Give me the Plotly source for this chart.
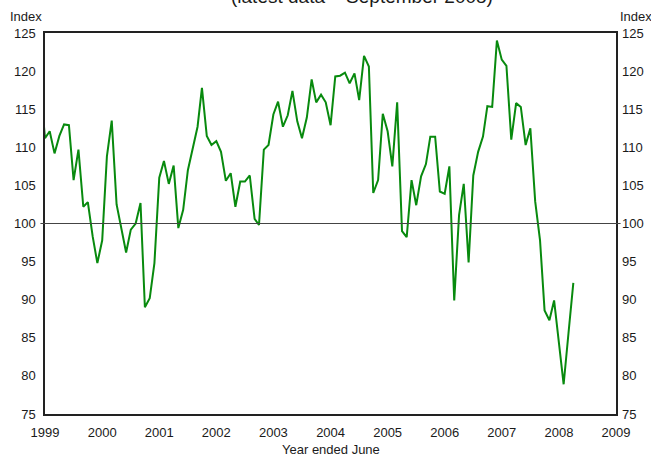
import pandas as pd
import plotly.graph_objects as go

# Monthly index, May 1999 (clipped at left edge) to September 2008
months = pd.date_range("1999-05-01", "2008-09-01", freq="MS")
index_values = [
    118.5,
    111.2, 112.1, 109.2, 111.5, 113.0, 112.9, 105.7, 109.7, 102.2, 102.8, 98.3, 94.8,
    97.8, 108.8, 113.5, 102.5, 99.6, 96.2, 99.2, 100.0, 102.7, 89.0, 90.2, 94.8,
    106.0, 108.2, 105.2, 107.6, 99.4, 101.8, 107.0, 109.9, 112.7, 117.8, 111.5, 110.3,
    110.8, 109.4, 105.6, 106.6, 102.2, 105.5, 105.5, 106.3, 100.6, 99.8, 109.7, 110.3,
    114.3, 116.0, 112.7, 114.2, 117.4, 113.4, 111.2, 113.9, 118.9, 115.9, 116.9, 115.9,
    112.9, 119.3, 119.4, 119.8, 118.4, 119.7, 116.2, 122.0, 120.6, 104.0, 105.7, 114.4,
    112.1, 107.5, 115.9, 99.0, 98.2, 105.7, 102.4, 106.2, 107.8, 111.4, 111.4, 104.2,
    103.9, 107.5, 89.9, 101.1, 105.2, 94.9, 106.3, 109.4, 111.4, 115.4, 115.3, 124.0,
    121.5, 120.7, 111.0, 115.8, 115.3, 110.3, 112.5, 102.9, 97.8, 88.6, 87.3, 89.9,
    84.4, 78.9, 85.6, 92.2,
]
tick_years = list(range(1999, 2010))
tick_dates = [f"{y}-06-01" for y in tick_years]
tick_labels = [str(y) for y in tick_years]
y_ticks = list(range(75, 126, 5))

FONT = "Arial, Liberation Sans, sans-serif"
TXT = "#1a1a1a"

fig = go.Figure()
fig.add_trace(go.Scatter(x=months, y=index_values, mode="lines",
                         line=dict(color="#088a0e", width=2), hoverinfo="skip",
                         showlegend=False))
fig.add_trace(go.Scatter(x=months, y=index_values, mode="lines", yaxis="y2",
                         line=dict(color="rgba(0,0,0,0)", width=0), hoverinfo="skip",
                         showlegend=False))

axis_common = dict(range=[75, 125], tickvals=y_ticks, ticks="", showgrid=False,
                   zeroline=False, tickfont=dict(family=FONT, size=13, color=TXT),
                   ticklabelstandoff=5, automargin=False)

fig.update_layout(
    width=651, height=454,
    margin=dict(l=45, r=35, t=33, b=40),
    paper_bgcolor="white", plot_bgcolor="white",
    font=dict(family=FONT, color=TXT),
    xaxis=dict(range=[tick_dates[0], tick_dates[-1]], tickvals=tick_dates,
               ticktext=tick_labels, ticks="", showgrid=False, zeroline=False,
               showline=True, linecolor="#222", linewidth=1.5, mirror=True,
               automargin=False, ticklabelstandoff=6,
               tickfont=dict(family=FONT, size=13, color=TXT)),
    yaxis=dict(showline=True, linecolor="#222", linewidth=1.5, mirror=True, **axis_common),
    yaxis2=dict(overlaying="y", side="right", showline=False, **axis_common),
    shapes=[dict(type="line", xref="paper", yref="y", x0=-0.008, x1=1.008, y0=100, y1=100,
                 line=dict(color="#444", width=1.2))],
    annotations=[
        dict(text="(latest data – September 2008)", xref="paper", yref="paper",
             x=0.555, y=1.095, xanchor="center", yanchor="middle", showarrow=False,
             font=dict(family=FONT, size=19, color=TXT)),
        dict(text="Index", xref="paper", yref="paper", x=0.0, y=1.042,
             xanchor="right", xshift=-1, yanchor="middle", showarrow=False,
             font=dict(family=FONT, size=13, color=TXT)),
        dict(text="Index", xref="paper", yref="paper", x=1.0, y=1.042,
             xanchor="left", xshift=2, yanchor="middle", showarrow=False,
             font=dict(family=FONT, size=13, color=TXT)),
        dict(text="Year ended June", xref="paper", yref="paper", x=0.5, y=-0.093,
             xanchor="center", yanchor="middle", showarrow=False,
             font=dict(family=FONT, size=13, color=TXT)),
    ],
)

fig.write_html("out.html", config={"displayModeBar": False},
               post_script="document.body.style.margin='0';document.body.style.overflow='hidden';")
